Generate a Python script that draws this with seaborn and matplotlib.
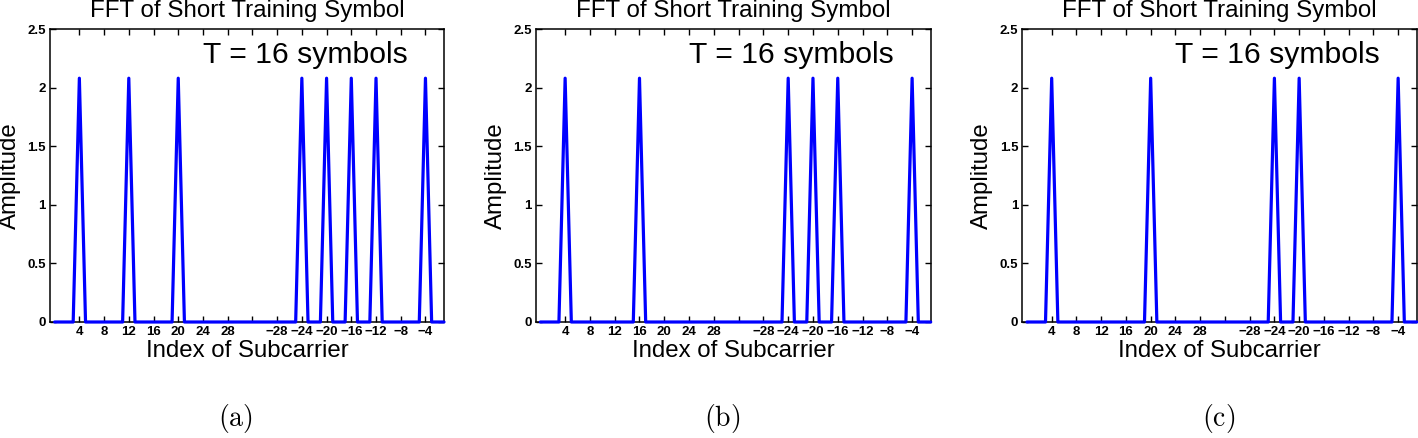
import matplotlib
matplotlib.use("Agg")
import matplotlib.pyplot as plt
import seaborn as sns
import numpy as np
import pandas as pd

# ---- data ----
subcarrier_index = list(range(64))
amp_a = [0, 0, 0, 0, 2.08, 0, 0, 0, 0, 0, 0, 0, 2.08, 0, 0, 0,
         0, 0, 0, 0, 2.08, 0, 0, 0, 0, 0, 0, 0, 0, 0, 0, 0,
         0, 0, 0, 0, 0, 0, 0, 0, 2.08, 0, 0, 0, 2.08, 0, 0, 0,
         2.08, 0, 0, 0, 2.08, 0, 0, 0, 0, 0, 0, 0, 2.08, 0, 0, 0]
amp_b = [0, 0, 0, 0, 2.08, 0, 0, 0, 0, 0, 0, 0, 0, 0, 0, 0,
         2.08, 0, 0, 0, 0, 0, 0, 0, 0, 0, 0, 0, 0, 0, 0, 0,
         0, 0, 0, 0, 0, 0, 0, 0, 2.08, 0, 0, 0, 2.08, 0, 0, 0,
         2.08, 0, 0, 0, 0, 0, 0, 0, 0, 0, 0, 0, 2.08, 0, 0, 0]
amp_c = [0, 0, 0, 0, 2.08, 0, 0, 0, 0, 0, 0, 0, 0, 0, 0, 0,
         0, 0, 0, 0, 2.08, 0, 0, 0, 0, 0, 0, 0, 0, 0, 0, 0,
         0, 0, 0, 0, 0, 0, 0, 0, 2.08, 0, 0, 0, 2.08, 0, 0, 0,
         0, 0, 0, 0, 0, 0, 0, 0, 0, 0, 0, 0, 2.08, 0, 0, 0]
panel_amps = [amp_a, amp_b, amp_c]
panel_captions = ["a", "b", "c"]
xtick_pos = [4, 8, 12, 16, 20, 24, 28, 32, 36, 40, 44, 48, 52, 56, 60]
xtick_labels = ["4", "8", "12", "16", "20", "24", "28", "",
                "\u221228", "\u221224", "\u221220", "\u221216", "\u221212", "\u22128", "\u22124"]
ytick_pos = [0, 0.5, 1, 1.5, 2, 2.5]
ytick_labels = ["0", "0.5", "1", "1.5", "2", "2.5"]
title_text = "FFT of Short Training Symbol"
annot_text = "T = 16 symbols"

sns.set_theme(style="ticks")
plt.rcParams["font.family"] = ["Liberation Sans", "DejaVu Sans"]
plt.rcParams["text.color"] = "black"
plt.rcParams["axes.labelcolor"] = "black"
plt.rcParams["xtick.color"] = "black"
plt.rcParams["ytick.color"] = "black"

fig = plt.figure(figsize=(14.18, 4.38), dpi=100)
W, H = 1418, 438
axes_px = [(50, 444), (535.7, 930.7), (1022.3, 1416.7)]
top_px, bot_px = 29, 322
caption_x = [235, 722, 1219]

for i, (amps, (l, r)) in enumerate(zip(panel_amps, axes_px)):
    ax = fig.add_axes([l / W, 1 - bot_px / H, (r - l) / W, (bot_px - top_px) / H])
    df = pd.DataFrame({"idx": subcarrier_index, "amp": amps})
    sns.lineplot(data=df, x="idx", y="amp", ax=ax, color=(0, 0, 1),
                 linewidth=2.3, clip_on=False, zorder=3)
    ax.set_xlim(-0.75, 63)
    ax.set_ylim(0, 2.5)
    ax.set_xticks(xtick_pos)
    ax.set_xticklabels(xtick_labels)
    ax.set_yticks(ytick_pos)
    ax.set_yticklabels(ytick_labels)
    ax.tick_params(direction="in", length=4, width=1, top=True, right=True,
                   labelsize=9.5, pad=3, colors="black")
    for lab in ax.get_xticklabels() + ax.get_yticklabels():
        lab.set_fontweight("bold")
    for sp in ax.spines.values():
        sp.set_visible(True)
        sp.set_linewidth(1.1)
        sp.set_color("black")
    ax.set_title(title_text, fontsize=17.4, pad=8.6, color="black")
    ax.set_xlabel("Index of Subcarrier", fontsize=17.3, labelpad=1)
    ax.set_ylabel("Amplitude", fontsize=17.3)
    ax.yaxis.set_label_coords(-0.074, 0.5)
    ax.text(24, 2.21, annot_text, fontsize=21.7, va="baseline", ha="left", color="black")
    fig.text(caption_x[i] / W, 1 - 418.5 / H, r"$(\mathrm{%s})$" % panel_captions[i],
             fontsize=20, ha="center", va="center", math_fontfamily="cm", color="black")

fig.savefig("out.png", dpi=100)
